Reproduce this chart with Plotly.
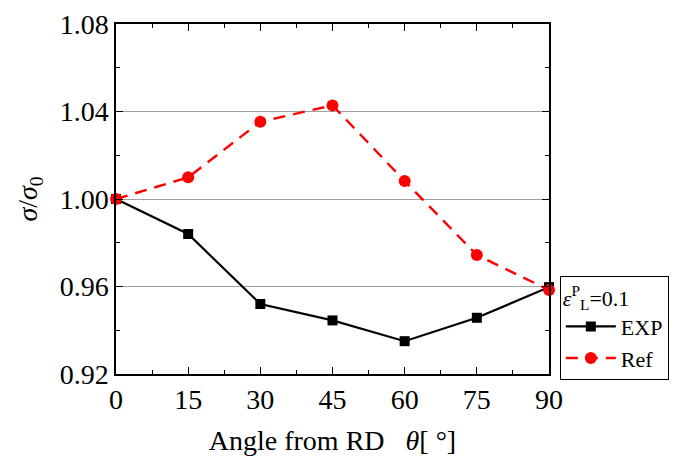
import plotly.graph_objects as go

angles = [0, 15, 30, 45, 60, 75, 90]
exp_vals = [1.000, 0.984, 0.952, 0.9445, 0.935, 0.9457, 0.9597]
ref_vals = [1.000, 1.0099, 1.0353, 1.0428, 1.0082, 0.9744, 0.9584]
x_ticks = [0, 15, 30, 45, 60, 75, 90]
y_ticks = [0.92, 0.96, 1.00, 1.04, 1.08]
y_tick_labels = ["0.92", "0.96", "1.00", "1.04", "1.08"]

FONT = "Liberation Serif, Times New Roman, serif"

fig = go.Figure()
fig.add_trace(go.Scatter(
    x=angles, y=exp_vals, name="EXP", mode="lines+markers",
    line=dict(color="black", width=2.2),
    marker=dict(symbol="square", size=10, color="black"),
    cliponaxis=False,
))
fig.add_trace(go.Scatter(
    x=angles, y=ref_vals, name="Ref", mode="lines+markers",
    line=dict(color="#ff0000", width=2.4, dash="12px,8px"),
    marker=dict(symbol="circle", size=12, color="#ff0000"),
    cliponaxis=False,
))

fig.update_layout(
    width=674, height=454,
    margin=dict(l=108, r=133, t=16, b=88, autoexpand=False),
    paper_bgcolor="white", plot_bgcolor="white",
    font=dict(family=FONT, size=28, color="black"),
    showlegend=True,
    legend=dict(
        x=1.025, y=0.28, xanchor="left", yanchor="top",
        bordercolor="black", borderwidth=1, bgcolor="white",
        font=dict(family=FONT, size=22, color="black"),
        title=dict(text="<i>ε</i><sup>P</sup><sub>L</sub>=0.1", font=dict(family=FONT, size=22)),
        itemwidth=50, tracegroupgap=0,
    ),
    xaxis=dict(
        range=[0, 90], tickvals=x_ticks, ticktext=[str(v) for v in x_ticks],
        showline=True, linecolor="black", linewidth=1.5, mirror="allticks",
        ticks="inside", ticklen=7, tickwidth=1.2, tickcolor="black",
        minor=dict(dtick=7.5, ticks="inside", ticklen=4, tickwidth=1.2, tickcolor="black", showgrid=False),
        showgrid=False, zeroline=False,
        tickfont=dict(family=FONT, size=28),
        title=dict(text="Angle from RD&nbsp;&nbsp;&nbsp;<i>θ</i>[ °]", font=dict(family=FONT, size=28), standoff=16),
    ),
    yaxis=dict(
        range=[0.92, 1.08], tickvals=y_ticks, ticktext=y_tick_labels,
        showline=True, linecolor="black", linewidth=1.5, mirror="allticks",
        ticks="inside", ticklen=7, tickwidth=1.2, tickcolor="black",
        minor=dict(dtick=0.02, tick0=0.92, ticks="inside", ticklen=4, tickwidth=1.2, tickcolor="black", showgrid=False),
        showgrid=True, gridcolor="#a0a0a0", gridwidth=1, zeroline=False,
        tickfont=dict(family=FONT, size=28),
        title=dict(text="<i>σ</i>/<i>σ</i><sub>0</sub>", font=dict(family=FONT, size=28), standoff=14),
    ),
)

fig.write_html("out.html")
